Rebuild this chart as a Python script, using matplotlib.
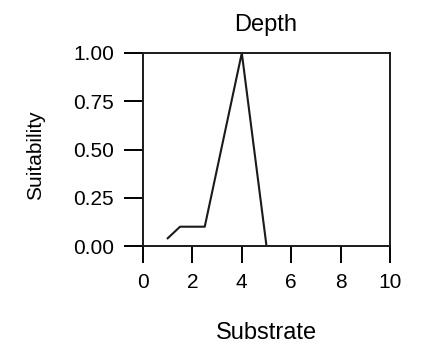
import matplotlib
matplotlib.use("Agg")
import matplotlib.pyplot as plt

substrate = [1.0, 1.5, 2.5, 4.0, 5.0]
suitability = [0.04, 0.10, 0.10, 1.00, 0.00]
x_ticks = [0, 2, 4, 6, 8, 10]
y_ticks = [0.00, 0.25, 0.50, 0.75, 1.00]
y_tick_labels = ["0.00", "0.25", "0.50", "0.75", "1.00"]

plt.rcParams['font.family'] = ['Liberation Sans', 'DejaVu Sans']

fig = plt.figure(figsize=(4.33, 3.52), dpi=100)
ax = fig.add_axes([143/433, 1 - 246/352, (390-143)/433, (246-53)/352])

ax.plot(substrate, suitability, color='#1a1a1a', lw=1.5)
ax.set_xlim(0, 10)
ax.set_ylim(0, 1)
ax.set_xticks(x_ticks)
ax.set_yticks(y_ticks)
ax.set_yticklabels(y_tick_labels)
ax.tick_params(axis='y', direction='out', length=14, width=1.4, pad=7, labelsize=15)
ax.tick_params(axis='x', direction='out', length=12.5, width=1.4, pad=7, labelsize=15)
for s in ax.spines.values():
    s.set_linewidth(1.4)
    s.set_color('#1a1a1a')

fig.text(266/433, 1 - 25/352, "Depth", ha='center', va='center', fontsize=17)
fig.text(266/433, 1 - 333/352, "Substrate", ha='center', va='center', fontsize=17)
fig.text(36/433, 1 - 155/352, "Suitability", ha='center', va='center', rotation=90, fontsize=15)

fig.savefig("out.png", dpi=100)
